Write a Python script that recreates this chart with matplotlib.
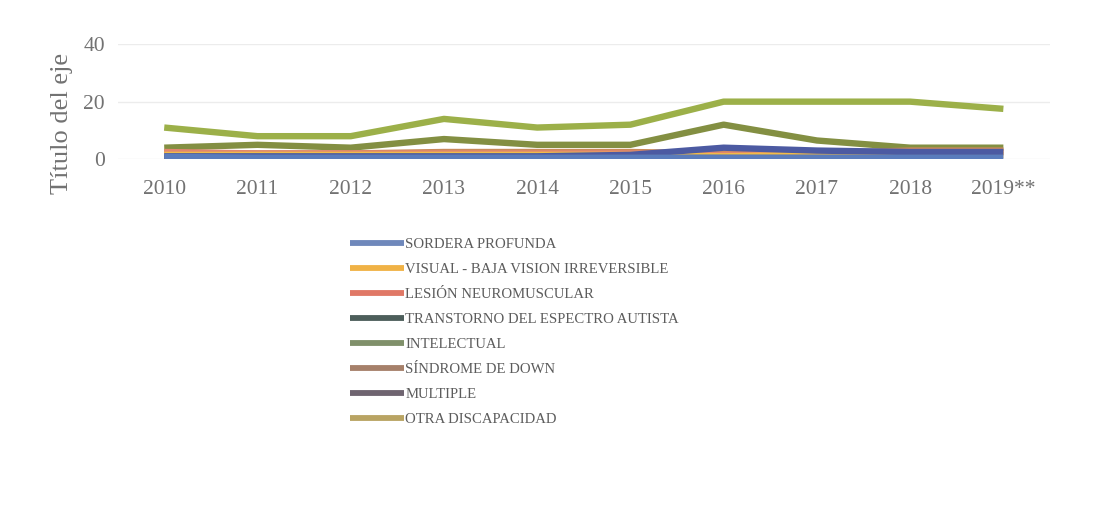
import matplotlib.pyplot as plt

# ---------------------------------------------------------------------------
# Data
# ---------------------------------------------------------------------------
years = ["2010", "2011", "2012", "2013", "2014", "2015", "2016", "2017", "2018", "2019**"]

series_names = [
    "SORDERA PROFUNDA",
    "VISUAL - BAJA VISION IRREVERSIBLE",
    "LESIÓN NEUROMUSCULAR",
    "TRANSTORNO DEL ESPECTRO AUTISTA",
    "INTELECTUAL",
    "SÍNDROME DE DOWN",
    "MULTIPLE",
    "OTRA DISCAPACIDAD",
]

sordera     = [0.8, 0.5, 0.5, 0.5, 0.5, 0.5, 0.5, 0.5, 0.5, 0.5]
visual      = [1.5, 1.5, 1.5, 1.5, 1.5, 1.5, 1.0, 1.5, 1.5, 1.5]
lesion      = [2.5, 2.0, 2.0, 2.0, 2.0, 2.0, 1.5, 2.0, 2.5, 2.5]
autismo     = [1.0, 1.0, 1.0, 1.0, 1.0, 1.5, 4.0, 3.0, 2.5, 2.5]
intelectual = [11, 8, 8, 14, 11, 12, 20, 20, 20, 17.5]
down        = [2.0, 2.0, 2.0, 2.5, 2.5, 2.5, 2.0, 2.0, 3.0, 3.0]
multiple    = [0.5, 0.5, 0.5, 0.5, 0.5, 0.5, 0.5, 0.5, 0.5, 0.5]
otra        = [4, 5, 4, 7, 5, 5, 12, 6.5, 4, 4]

values = [sordera, visual, lesion, autismo, intelectual, down, multiple, otra]

# colours as they appear on the plotted lines
LINE_COLORS = ["#5a7cbc", "#f2bc48", "#e2866e", "#4c5aa2",
               "#9cb049", "#c98a5a", "#6e6470", "#838f42"]
# colours as they appear in the (washed-out) legend swatches
LEGEND_COLORS = ["#6f88bb", "#f0b246", "#e07866", "#4d5e5b",
                 "#80906a", "#a6806a", "#6f6470", "#b9a463"]

GRID = "#ececec"
TEXT = "#727272"

plt.rcParams["font.family"] = ["Liberation Serif", "DejaVu Serif"]

fig = plt.figure(figsize=(11.2, 5.07), dpi=100)
ax = fig.add_axes([0.105, 0.686, 0.8325, 0.227])

x = list(range(len(years)))
draw_order = [4, 7, 5, 2, 1, 3, 6, 0]
lines = {}
for i in draw_order:
    ln, = ax.plot(x, values[i], color=LINE_COLORS[i], linewidth=4.6,
                  solid_capstyle="butt", solid_joinstyle="round",
                  label=series_names[i], zorder=3)
    lines[i] = ln

ax.set_xlim(-0.5, len(years) - 0.5)
ax.set_ylim(0, 40)
ax.set_yticks([0, 20, 40])
ax.set_xticks(x)
ax.set_xticklabels(years)
ax.grid(axis="y", color=GRID, linewidth=1.0, zorder=0)
for s in ax.spines.values():
    s.set_visible(False)
ax.tick_params(length=0, labelsize=15.5, colors=TEXT)
ax.tick_params(axis="y", pad=9)
ax.tick_params(axis="x", pad=15)
ax.set_ylabel("Título del eje", fontsize=19, color=TEXT)
ax.yaxis.set_label_coords(-0.048, 0.31)

handles = [lines[i] for i in range(len(series_names))]
leg = fig.legend(handles, series_names, loc="center left",
                 bbox_to_anchor=(350 / 1120, 1 - 332 / 507),
                 frameon=False, fontsize=10.6, handlelength=3.7,
                 handletextpad=0.05, labelspacing=0.8,
                 borderpad=0, borderaxespad=0)
for h, c in zip(leg.legend_handles, LEGEND_COLORS):
    h.set_color(c)
    h.set_linewidth(4.2)
for t in leg.get_texts():
    t.set_color("#5c5c5c")

plt.savefig("out.png", dpi=100, facecolor="white")
